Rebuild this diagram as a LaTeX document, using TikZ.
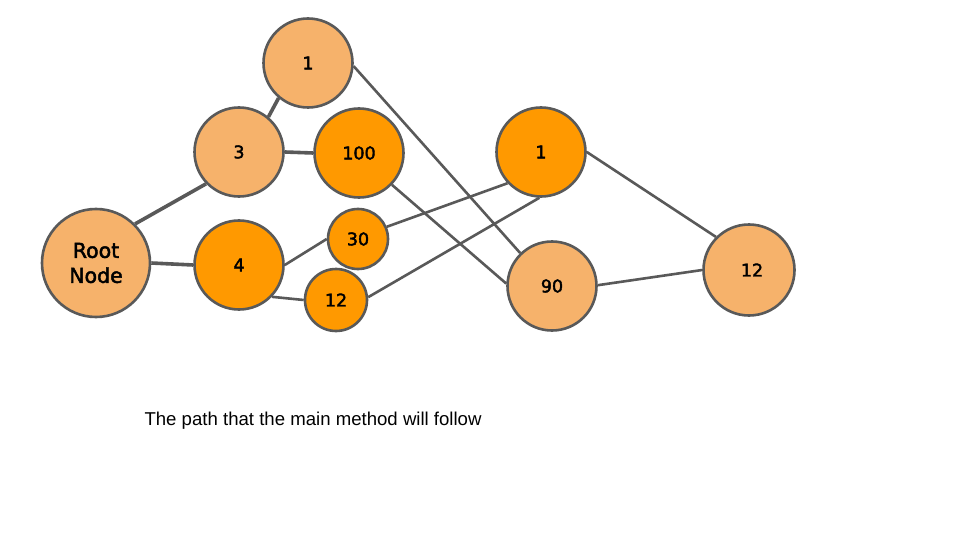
\documentclass[tikz,border=0pt]{standalone}
\usepackage{fontspec}
\setmainfont{Liberation Sans}
\newfontfamily\labelfont[FakeBold=2.2]{DejaVu Sans}
\usetikzlibrary{backgrounds}
\definecolor{lightor}{HTML}{F6B26B}
\definecolor{darkor}{HTML}{FF9900}
\definecolor{edgegray}{HTML}{595959}
\tikzset{
  vert/.style={circle, draw=edgegray, line width=2.6pt, inner sep=0pt,
    minimum size=#1, font=\labelfont\fontsize{17.5}{19}\selectfont, text=black},
  light/.style={fill=lightor},
  dark/.style={fill=darkor},
  link/.style={draw=edgegray, line width=2.6pt},
  heavy/.style={draw=edgegray, line width=3.6pt},
}
\begin{document}
\begin{tikzpicture}[x=1pt, y=-1pt]
\useasboundingbox (0,0) rectangle (960,540);

% graph vertices
\node[vert=108pt, light, align=center, font=\labelfont\fontsize{20.5}{25}\selectfont] (root) at (96,263) {Root\\Node};
\node[vert=89pt, light] (a3) at (239,152) {3};
\node[vert=89pt, light] (a1) at (308,63) {1};
\node[vert=89pt, dark] (a100) at (359,153) {100};
\node[vert=89pt, dark] (a4) at (239,265) {4};
\node[vert=60pt, dark] (a30) at (358,239) {30};
\node[vert=62pt, dark] (a12) at (336,300) {12};
\node[vert=89pt, dark] (b1) at (541,152) {1};
\node[vert=89pt, light] (b90) at (552,286) {90};
\node[vert=91pt, light] (c12) at (749,270) {\hspace*{6pt}12};

\node[anchor=west, font=\fontsize{18.6}{21}\selectfont] (cap) at (141,421) {The path that the main method will follow};

% connections, kept behind the vertices
\begin{scope}[on background layer]
  \fill[white] (0,0) rectangle (960,540);
  \path[heavy] (root.45) -- (a3.224);
  \path[heavy] (root.0) -- (a4.180);
  \path[heavy] (a3.50) -- (a1.230);
  \path[heavy] (a3.0) -- (a100.180);
  \path[link] (a1.-4) -- (b90.134);
  \path[link] (a100.-44) -- (b90.177);
  \path[link] (a4.0) -- (a30.180);
  \path[link] (a4.-44) -- (a12.180);
  \path[link] (a30.23) -- (b1.223);
  \path[link] (a12.5) -- (b1.268);
  \path[link] (b1.0) -- (c12.135);
  \path[link] (b90.1) -- (c12.180);
\end{scope}
\end{tikzpicture}
\end{document}
